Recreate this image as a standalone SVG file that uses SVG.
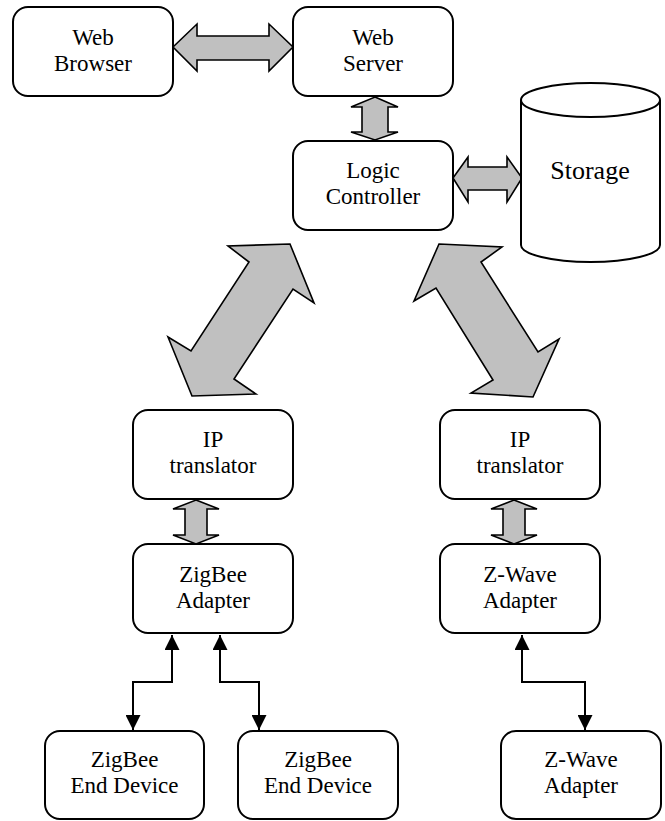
<svg xmlns="http://www.w3.org/2000/svg" width="665" height="821" viewBox="0 0 665 821">
<style>
.box{fill:#fff;stroke:#000;stroke-width:2}
text{font-family:'Liberation Serif','DejaVu Serif',serif;fill:#000;text-anchor:middle}
.lbl{font-size:23px}
.big{font-size:26px}
.fat{fill:#c0c0c0;stroke:#000;stroke-width:1.6;stroke-linejoin:miter}
.wire{fill:none;stroke:#000;stroke-width:2;marker-start:url(#ah);marker-end:url(#ah)}
</style>
<defs>
<marker id="ah" viewBox="0 0 10 10" refX="10" refY="5" markerWidth="15" markerHeight="15" markerUnits="userSpaceOnUse" orient="auto-start-reverse">
<path d="M0,0 L10,5 L0,10 z" fill="#000"/>
</marker>
</defs>
<rect width="665" height="821" fill="#fff"/>
<g id="connectors">
<polygon class="fat" points="173,47 197,24 197,36 269,36 269,24 293,47 269,71 269,60 197,60 197,71"/>
<polygon class="fat" points="375,97 398,107 388,107 388,132 398,132 375,140 351,132 362,132 362,107 351,107"/>
<polygon class="fat" points="453,178 468,157 468,167 507,167 507,157 522,178 507,202 507,190 468,190 468,202"/>
<polygon class="fat" points="290,244 228,246 249,262 191,351 168,337 192,396 256,394 234,379 293,289 314,303"/>
<polygon class="fat" points="439,244 502,247 481,262 538,352 559,339 533,397 471,393 493,380 436,288 414,301"/>
<polygon class="fat" points="196,500 219,509 207,509 207,535 219,535 196,544 173,535 185,535 185,509 173,509"/>
<polygon class="fat" points="514,500 537,509 525,509 525,535 537,535 514,544 491,535 503,535 503,509 491,509"/>
<path class="wire" d="M172,635 V682 H133 V730"/>
<path class="wire" d="M220,635 V682 H259 V730"/>
<path class="wire" d="M522,635 V682 H585 V730"/>
</g>
<g id="web-browser"><rect class="box" x="13" y="7" width="160" height="89" rx="15"/><text class="lbl" x="93" y="45" font-family="Liberation Serif">Web</text><text class="lbl" x="93" y="71" font-family="Liberation Serif">Browser</text></g>
<g id="web-server"><rect class="box" x="293" y="7" width="160" height="89" rx="15"/><text class="lbl" x="373" y="45">Web</text><text class="lbl" x="373" y="71">Server</text></g>
<g id="logic-controller"><rect class="box" x="293" y="141" width="160" height="89" rx="15"/><text class="lbl" x="373" y="178">Logic</text><text class="lbl" x="373" y="204">Controller</text></g>
<g id="storage"><path class="box" d="M521,100 V245 A69.5,17 0 0 0 660,245 V100 A69.5,17 0 0 0 521,100 A69.5,17 0 0 0 660,100"/><text class="big" x="590" y="179">Storage</text></g>
<g id="ip-translator-1"><rect class="box" x="133" y="410" width="160" height="89" rx="15"/><text class="lbl" x="213" y="447">IP</text><text class="lbl" x="213" y="473">translator</text></g>
<g id="ip-translator-2"><rect class="box" x="440" y="410" width="160" height="89" rx="15"/><text class="lbl" x="520" y="447">IP</text><text class="lbl" x="520" y="473">translator</text></g>
<g id="zigbee-adapter"><rect class="box" x="133" y="544" width="160" height="89" rx="15"/><text class="lbl" x="213" y="582">ZigBee</text><text class="lbl" x="213" y="608">Adapter</text></g>
<g id="zwave-adapter"><rect class="box" x="440" y="544" width="160" height="89" rx="15"/><text class="lbl" x="520" y="582">Z-Wave</text><text class="lbl" x="520" y="608">Adapter</text></g>
<g id="zigbee-end-device-1"><rect class="box" x="45" y="731" width="159" height="88" rx="15"/><text class="lbl" x="124.5" y="767">ZigBee</text><text class="lbl" x="124.5" y="793">End Device</text></g>
<g id="zigbee-end-device-2"><rect class="box" x="238" y="731" width="160" height="88" rx="15"/><text class="lbl" x="318" y="767">ZigBee</text><text class="lbl" x="318" y="793">End Device</text></g>
<g id="zwave-adapter-2"><rect class="box" x="501" y="731" width="160" height="88" rx="15"/><text class="lbl" x="581" y="767">Z-Wave</text><text class="lbl" x="581" y="793">Adapter</text></g>
</svg>
